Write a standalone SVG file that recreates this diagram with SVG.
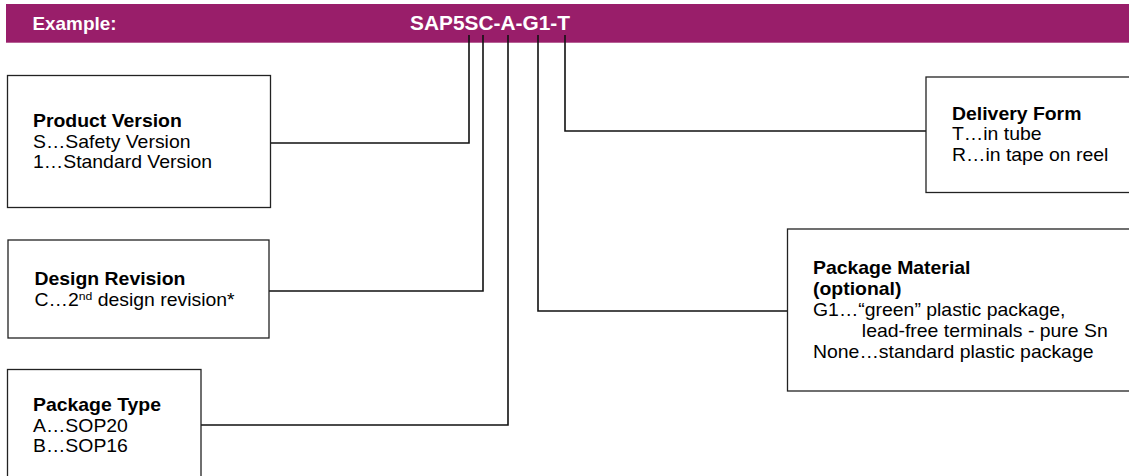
<svg xmlns="http://www.w3.org/2000/svg" width="1129" height="476" viewBox="0 0 1129 476">
<style>
.box{fill:#fff;stroke:#222;stroke-width:1.3}
.t{font-family:"Liberation Sans",Arial,sans-serif;font-size:17.5px;fill:#000}
.b{font-weight:bold}
.hd{font-family:"Liberation Sans",Arial,sans-serif;font-weight:bold;fill:#fff}
.con{fill:none;stroke:#111;stroke-width:1.6}
</style>
<rect width="1129" height="476" fill="#fff"/>
<g id="banner">
<rect x="6" y="4" width="1123" height="38.7" fill="#991e6a"/>
<text class="hd" font-size="17.5" transform="translate(32.5,30) scale(1.08,1)">Example:</text>
<text class="hd" font-size="19.5" transform="translate(410,30) scale(1.07,1)">SAP5SC-A-G1-T</text>
</g>
<g id="connectors">
<polyline class="con" points="469,35 469,143 270,143"/>
<polyline class="con" points="483,35 483,291 269,291"/>
<polyline class="con" points="508,35 508,425 201,425"/>
<polyline class="con" points="538,35 538,311 787,311"/>
<polyline class="con" points="565,35 565,131 926,131"/>
</g>
<g id="product-version">
<rect class="box" x="7.5" y="75.5" width="263" height="132"/>
<text class="t" transform="translate(33,127) scale(1.11,1)"><tspan class="b" x="0" y="0">Product Version</tspan><tspan x="0" y="20.7">S…Safety Version</tspan><tspan x="0" y="41.4">1…Standard Version</tspan></text>
</g>
<g id="design-revision">
<rect class="box" x="8" y="240" width="261" height="98"/>
<text class="t" transform="translate(34.5,285) scale(1.11,1)"><tspan class="b" x="0" y="0">Design Revision</tspan><tspan x="0" y="21">C…2</tspan><tspan font-size="11" dy="-6">nd</tspan><tspan dy="6"> design revision*</tspan></text>
</g>
<g id="package-type">
<rect class="box" x="7.5" y="369.5" width="193.5" height="120"/>
<text class="t" transform="translate(33,411) scale(1.11,1)"><tspan class="b" x="0" y="0">Package Type</tspan><tspan x="0" y="20.7">A…SOP20</tspan><tspan x="0" y="41.4">B…SOP16</tspan></text>
</g>
<g id="delivery-form">
<rect class="box" x="926" y="77" width="220" height="115.5"/>
<text class="t" transform="translate(952,119.5) scale(1.11,1)"><tspan class="b" x="0" y="0">Delivery Form</tspan><tspan x="0" y="21">T…in tube</tspan><tspan x="0" y="42">R…in tape on reel</tspan></text>
</g>
<g id="package-material">
<rect class="box" x="787.5" y="229" width="360" height="162"/>
<text class="t" transform="translate(813,274) scale(1.11,1)"><tspan class="b" x="0" y="0">Package Material</tspan><tspan class="b" x="0" y="21">(optional)</tspan><tspan x="0" y="42">G1…“green” plastic package,</tspan><tspan x="44" y="63">lead-free terminals - pure Sn</tspan><tspan x="0" y="84">None…standard plastic package</tspan></text>
</g>
</svg>
